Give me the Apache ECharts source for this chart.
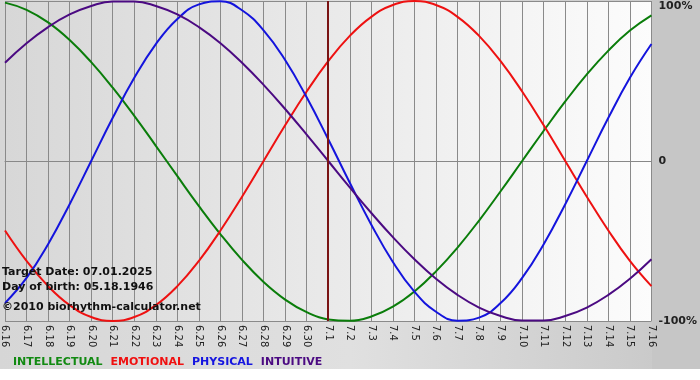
<!DOCTYPE html>
<html>
<head>
<meta charset="utf-8">
<script src="https://cdn.jsdelivr.net/npm/echarts@6/dist/echarts.min.js"></script>
<style>
html,body{margin:0;padding:0;background:#fff;}
#chart{width:700px;height:380px;}
</style>
</head>
<body>
<div id="chart"></div>
<script>
var categories = ['6.16','6.17','6.18','6.19','6.20','6.21','6.22','6.23','6.24','6.25','6.26','6.27','6.28','6.29','6.30',
  '7.1','7.2','7.3','7.4','7.5','7.6','7.7','7.8','7.9','7.10','7.11','7.12','7.13','7.14','7.15','7.16'];
var targetDay = '7.1';
var intellectual = [0.990,0.945,0.866,0.756,0.618,0.458,0.282,0.095,-0.095,-0.282,-0.458,-0.618,-0.756,-0.866,-0.945,
  -0.990,-0.999,-0.972,-0.910,-0.815,-0.690,-0.541,-0.372,-0.189,0,0.189,0.372,0.541,0.690,0.815,0.910];
var emotional = [-0.434,-0.624,-0.782,-0.901,-0.975,-1.0,-0.975,-0.901,-0.782,-0.624,-0.434,-0.223,0,0.223,0.434,
  0.624,0.782,0.901,0.975,1.0,0.975,0.901,0.782,0.624,0.434,0.223,0,-0.223,-0.434,-0.624,-0.782];
var physical = [-0.888,-0.731,-0.520,-0.270,0,0.270,0.520,0.731,0.888,0.979,0.998,0.942,0.817,0.631,0.398,
  0.136,-0.136,-0.398,-0.631,-0.817,-0.942,-0.998,-0.979,-0.888,-0.731,-0.520,-0.270,0,0.270,0.520,0.731];
var intuitive = [0.614,0.736,0.837,0.916,0.969,0.997,0.997,0.969,0.916,0.837,0.736,0.614,0.476,0.325,0.165,
  0,-0.165,-0.325,-0.476,-0.614,-0.736,-0.837,-0.916,-0.969,-0.997,-0.997,-0.969,-0.916,-0.837,-0.736,-0.614];
var seriesNames = ['INTELLECTUAL','EMOTIONAL','PHYSICAL','INTUITIVE'];
var seriesColors = ['#0a7d0a','#ee1111','#1414dd','#4b0a82'];
var legendColors = ['#128a12','#f01010','#1515e0','#4b0a82'];
var yTicks = {'1':'100%','0':'0','-1':'-100%'};
var infoLines = ['Target Date: 07.01.2025','Day of birth: 05.18.1946','\u00a92010 biorhythm-calculator.net'];

var FONT = '"DejaVu Sans", Verdana, sans-serif';
var chart = echarts.init(document.getElementById('chart'), null, {renderer:'canvas'});
var dataSets = [intellectual, emotional, physical, intuitive];

var series = dataSets.map(function(d, i){
  var s = {
    name: seriesNames[i], type:'line', data:d, smooth:0.45, symbol:'none',
    lineStyle:{color:seriesColors[i], width:2}, itemStyle:{color:seriesColors[i]},
    silent:true, z:3
  };
  if (i === 0) {
    s.markLine = {
      silent:true, symbol:['none','none'], label:{show:false},
      lineStyle:{color:'#7a1414', width:2, type:'solid'},
      data:[{xAxis:targetDay}], z:5
    };
  }
  return s;
});

chart.setOption({
  animation:false,
  backgroundColor:'#ffffff',
  grid:{left:0, right:48, top:1, bottom:59, show:true, borderWidth:0,
    backgroundColor:new echarts.graphic.LinearGradient(0,0,1,0,[{offset:0,color:'#d7d7d7'},{offset:1,color:'#fcfcfc'}])},
  legend:{
    left:3, top:352, itemWidth:0, itemHeight:0, itemGap:3, selectedMode:false,
    data: seriesNames.map(function(n,i){return {name:n, icon:'rect', textStyle:{color:legendColors[i]}};}),
    textStyle:{fontFamily:FONT, fontSize:11, fontWeight:'bold'}
  },
  xAxis:{
    type:'category', data:categories, boundaryGap:false,
    axisLine:{show:true, lineStyle:{color:'#888888', width:1}},
    axisTick:{show:false},
    splitLine:{show:true, interval:0, lineStyle:{color:'#8a8a8a', width:1}},
    axisLabel:{interval:0, rotate:-90, margin:4, fontFamily:FONT, fontSize:10, color:'#222222'}
  },
  yAxis:{
    type:'value', position:'right', min:-1, max:1, interval:1,
    axisLine:{show:false}, axisTick:{show:false},
    splitLine:{show:true, lineStyle:{color:'#8a8a8a', width:1}},
    axisLabel:{margin:7, fontFamily:FONT, fontSize:11, fontWeight:'bold', color:'#222222',
      verticalAlignMaxLabel:'top',
      formatter:function(v){ return yTicks[String(v)]; }}
  },
  graphic:[
    {type:'rect', z:-20, silent:true, shape:{x:0,y:0,width:700,height:369},
      style:{fill:new echarts.graphic.LinearGradient(0,0,1,0,[{offset:0,color:'#d6d6d6'},{offset:0.5,color:'#e0e0e0'},{offset:0.9,color:'#cccccc'},{offset:1,color:'#c6c6c6'}])}},
    {type:'rect', z:-19, silent:true, shape:{x:652,y:0,width:48,height:369}, style:{fill:'#c6c6c6'}},
    {type:'text', z:100, silent:true, style:{text:infoLines[0], x:2, y:272, verticalAlign:'middle', font:'bold 11px '+FONT, fill:'#111111'}},
    {type:'text', z:100, silent:true, style:{text:infoLines[1], x:2, y:287, verticalAlign:'middle', font:'bold 11px '+FONT, fill:'#111111'}},
    {type:'text', z:100, silent:true, style:{text:infoLines[2], x:2, y:307, verticalAlign:'middle', font:'bold 11px '+FONT, fill:'#111111'}}
  ],
  series:series
});
</script>
</body>
</html>
